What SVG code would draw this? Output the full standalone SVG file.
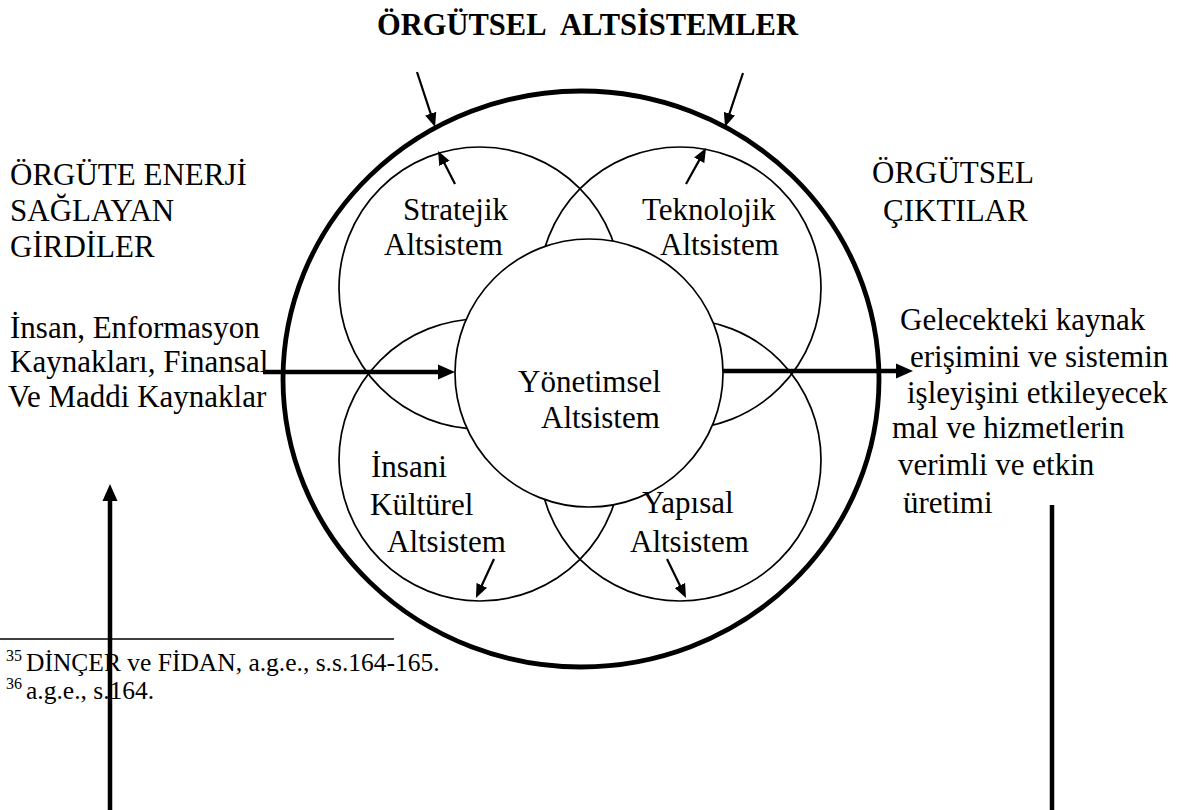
<svg xmlns="http://www.w3.org/2000/svg" width="1186" height="810" viewBox="0 0 1186 810">
<style>
text{font-family:"Liberation Serif","Times New Roman",serif;fill:#000}
.t{font-size:31px}
.title{font-size:30.5px;font-weight:bold}
.fn{font-size:25.5px}
.sup{font-size:16px}
.sub{fill:none;stroke:#000;stroke-width:1.7}
.outer{fill:none;stroke:#000;stroke-width:4.8}
.thick{stroke:#000;stroke-width:4.5;fill:none}
.thin{stroke:#000;stroke-width:2.2;fill:none}
</style>
<defs>
<marker id="ahThick" markerUnits="userSpaceOnUse" markerWidth="18" markerHeight="16" viewBox="0 -8 18 16" refX="1" refY="0" orient="auto"><path d="M0,-7.5 L17,0 L0,7.5 z" fill="#000"/></marker>
<marker id="ahThin" markerUnits="userSpaceOnUse" markerWidth="15" markerHeight="12" viewBox="0 -6 15 12" refX="1" refY="0" orient="auto"><path d="M0,-5.8 L14,0 L0,5.8 z" fill="#000"/></marker>
</defs>
<rect width="1186" height="810" fill="#fff"/>

<g id="title"><text class="title" x="377" y="35">ÖRGÜTSEL&#160; ALTSİSTEMLER</text></g>

<g id="system"><ellipse class="outer" cx="581" cy="379" rx="298" ry="288"/></g>

<g id="stratejik"><circle class="sub" cx="480" cy="288" r="141"/></g>
<g id="teknolojik"><circle class="sub" cx="680" cy="288" r="141"/></g>
<g id="insani"><circle class="sub" cx="480" cy="460" r="141"/></g>
<g id="yapisal"><circle class="sub" cx="680" cy="460" r="141"/></g>
<g id="yonetimsel"><circle class="sub" cx="589" cy="373" r="134" style="fill:#fff"/></g>

<g id="labels">
<text class="t" x="403" y="220">Stratejik</text>
<text class="t" x="384" y="255">Altsistem</text>
<text class="t" x="642" y="220">Teknolojik</text>
<text class="t" x="660" y="255">Altsistem</text>
<text class="t" x="518" y="392">Yönetimsel</text>
<text class="t" x="541" y="428">Altsistem</text>
<text class="t" x="371" y="477">İnsani</text>
<text class="t" x="370" y="515">Kültürel</text>
<text class="t" x="387" y="552">Altsistem</text>
<text class="t" x="642" y="513">Yapısal</text>
<text class="t" x="630" y="552">Altsistem</text>
</g>

<g id="inputs">
<text class="t" x="10" y="185">ÖRGÜTE ENERJİ</text>
<text class="t" x="10" y="221">SAĞLAYAN</text>
<text class="t" x="10" y="257">GİRDİLER</text>
<text class="t" x="10" y="338">İnsan, Enformasyon</text>
<text class="t" x="10" y="372">Kaynakları, Finansal</text>
<text class="t" x="8" y="407">Ve Maddi Kaynaklar</text>
</g>

<g id="outputs">
<text class="t" x="872" y="183">ÖRGÜTSEL</text>
<text class="t" x="883" y="221">ÇIKTILAR</text>
<text class="t" x="900" y="330">Gelecekteki kaynak</text>
<text class="t" x="910" y="367">erişimini ve sistemin</text>
<text class="t" x="907" y="403">işleyişini etkileyecek</text>
<text class="t" x="892" y="438">mal ve hizmetlerin</text>
<text class="t" x="898" y="475">verimli ve etkin</text>
<text class="t" x="903" y="513">üretimi</text>
</g>

<g id="footnotes">
<line x1="0" y1="639" x2="394" y2="639" stroke="#000" stroke-width="1.5"/>
<text class="sup" x="6" y="661">35</text>
<text class="fn" x="26" y="671">DİNÇER ve FİDAN, a.g.e., s.s.164-165.</text>
<text class="sup" x="6" y="689">36</text>
<text class="fn" x="26" y="699">a.g.e., s.164.</text>
</g>

<g id="connectors">
<line class="thick" x1="263" y1="372" x2="439" y2="372" marker-end="url(#ahThick)"/>
<line class="thick" x1="723" y1="371" x2="897" y2="371" marker-end="url(#ahThick)"/>
<line class="thick" x1="110" y1="812" x2="110" y2="500" marker-end="url(#ahThick)"/>
<line class="thick" x1="1052" y1="505" x2="1052" y2="812"/>
<line class="thin" x1="417" y1="72" x2="431" y2="114.6" marker-end="url(#ahThin)"/>
<line class="thin" x1="743" y1="73" x2="729.1" y2="114.7" marker-end="url(#ahThin)"/>
<line class="thin" x1="455" y1="184" x2="444" y2="162.6" marker-end="url(#ahThin)"/>
<line class="thin" x1="686" y1="184" x2="699.7" y2="159.4" marker-end="url(#ahThin)"/>
<line class="thin" x1="494" y1="559" x2="481.4" y2="586.2" marker-end="url(#ahThin)"/>
<line class="thin" x1="667" y1="559" x2="680.3" y2="586.3" marker-end="url(#ahThin)"/>
</g>
</svg>
